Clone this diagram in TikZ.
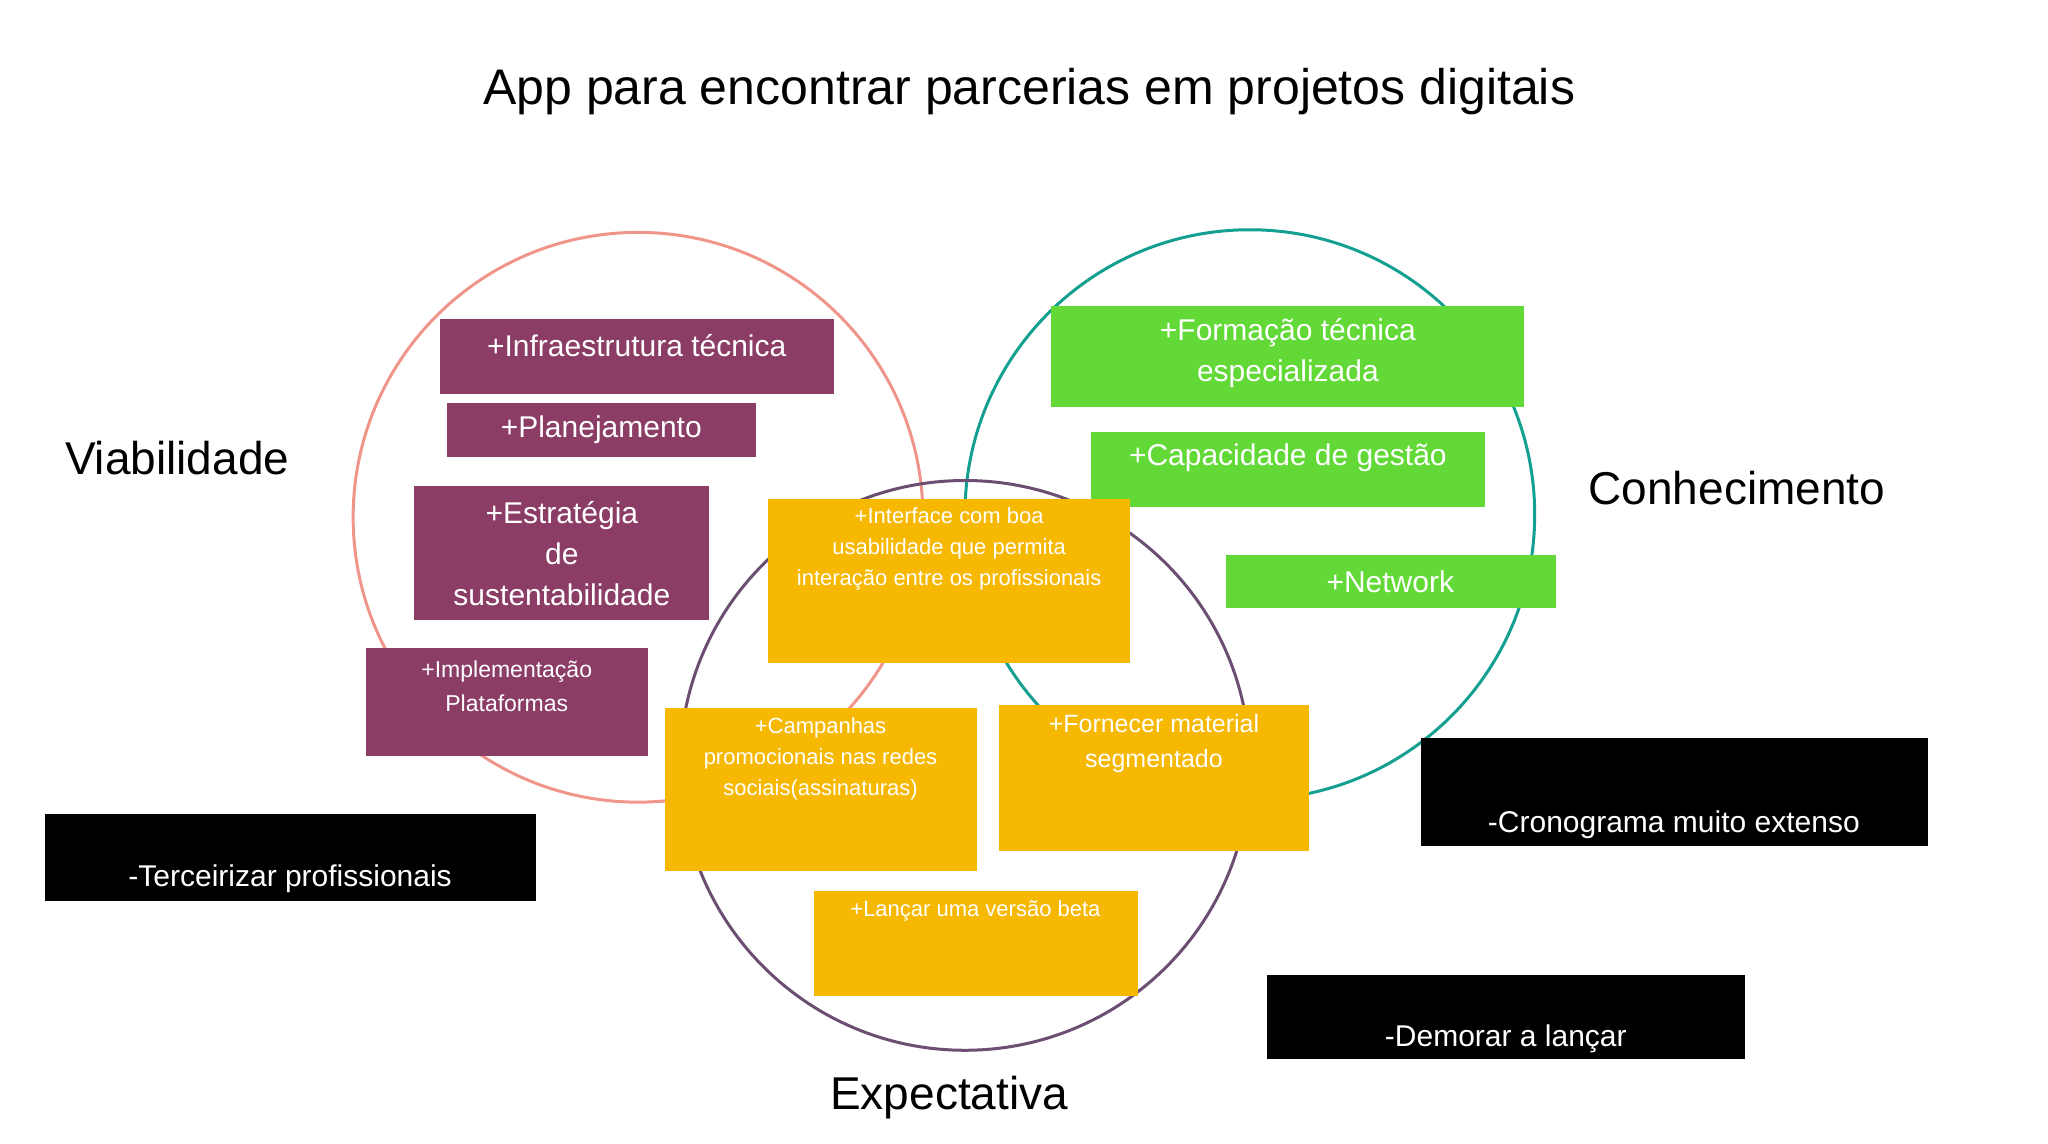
\documentclass[tikz,border=0pt]{standalone}
\usepackage{fontspec}
\setmainfont{Liberation Sans}
\definecolor{maroon}{HTML}{8B3D66}
\definecolor{lgreen}{HTML}{62D937}
\definecolor{gold}{HTML}{F6B800}
\definecolor{salmon}{HTML}{F0958A}
\definecolor{teal}{HTML}{14A091}
\definecolor{plum}{HTML}{6B4E71}
\begin{document}
\begin{tikzpicture}[x=1.313pt,y=-1.313pt,
  box/.style={inner sep=0pt,outer sep=0pt},
  big/.style={text=white,align=center,font=\fontsize{30}{41}\selectfont},
  small/.style={text=white,align=center,font=\fontsize{22}{31}\selectfont},
  title/.style={font=\fontsize{50}{60}\selectfont},
  ring/.style={line width=3pt}]
\useasboundingbox (0,0) rectangle (1560,871.3);
\node[title] (t) at (784,70) {App para encontrar parcerias em projetos digitais};
\draw[ring,salmon] (486,394) circle (217);
\draw[ring,teal] (952,392) circle (217);
\draw[ring,plum] (735,583) circle (217);
\node[title,font=\fontsize{46}{50}\selectfont] (lv) at (135,349) {Viabilidade};
\node[title,font=\fontsize{46}{50}\selectfont] (lc) at (1323,372) {Conhecimento};
\node[title,font=\fontsize{46}{50}\selectfont] (le) at (723,836) {Expectativa};
% maroon
\node[box,fill=maroon,minimum width=394pt,minimum height=75pt] (b1) at (485,271.5) {};
\node[big] (t1) at (485,263) {+Infraestrutura técnica};
\node[box,fill=maroon,minimum width=309pt,minimum height=54pt] (b2) at (458.5,327.5) {};
\node[big] (t2) at (458,327) {+Planejamento};
\node[box,fill=maroon,minimum width=295pt,minimum height=134pt] (b3) at (427.5,421) {};
\node[big] (t3) at (428,422) {+Estratégia\\de\\sustentabilidade};
\node[box,fill=maroon,minimum width=282pt,minimum height=108pt] (b4) at (386.5,535) {};
\node[small,font=\fontsize{23}{34}\selectfont] (t4) at (386,523) {+Implementação\\Plataformas};
% green
\node[box,fill=lgreen,minimum width=473pt,minimum height=101pt] (b5) at (981,271.5) {};
\node[big] (t5) at (981,269) {+Formação técnica\\especializada};
\node[box,fill=lgreen,minimum width=394pt,minimum height=75pt] (b6) at (981,357.5) {};
\node[big] (t6) at (981,349) {+Capacidade de gestão};
\node[box,fill=lgreen,minimum width=330pt,minimum height=53pt] (b7) at (1059.5,443) {};
\node[big] (t7) at (1059,443) {+Network};
% yellow
\node[box,fill=gold,minimum width=362pt,minimum height=164pt] (b8) at (723,442.5) {};
\node[small] (t8) at (723,418) {+Interface com boa\\usabilidade que permita\\interação entre os profissionais};
\node[box,fill=gold,minimum width=312pt,minimum height=163pt] (b9) at (625,601) {};
\node[small] (t9) at (625,578) {+Campanhas\\promocionais nas redes\\sociais(assinaturas)};
\node[box,fill=gold,minimum width=310pt,minimum height=146pt] (b10) at (879,592.5) {};
\node[small,font=\fontsize{25}{35}\selectfont] (t10) at (879,566.5) {+Fornecer material\\segmentado};
\node[box,fill=gold,minimum width=324pt,minimum height=105pt] (b11) at (743.5,719) {};
\node[small] (t11) at (743,694) {+Lançar uma versão beta};
% black
\node[box,fill=black,minimum width=491pt,minimum height=87pt] (b12) at (221,653) {};
\node[big] (t12) at (221,669) {-Terceirizar profissionais};
\node[box,fill=black,minimum width=508pt,minimum height=108pt] (b13) at (1275.5,603) {};
\node[big] (t13) at (1275,628) {-Cronograma muito extenso};
\node[box,fill=black,minimum width=478pt,minimum height=84pt] (b14) at (1147,775) {};
\node[big] (t14) at (1147,791) {-Demorar a lançar};
\end{tikzpicture}
\end{document}
